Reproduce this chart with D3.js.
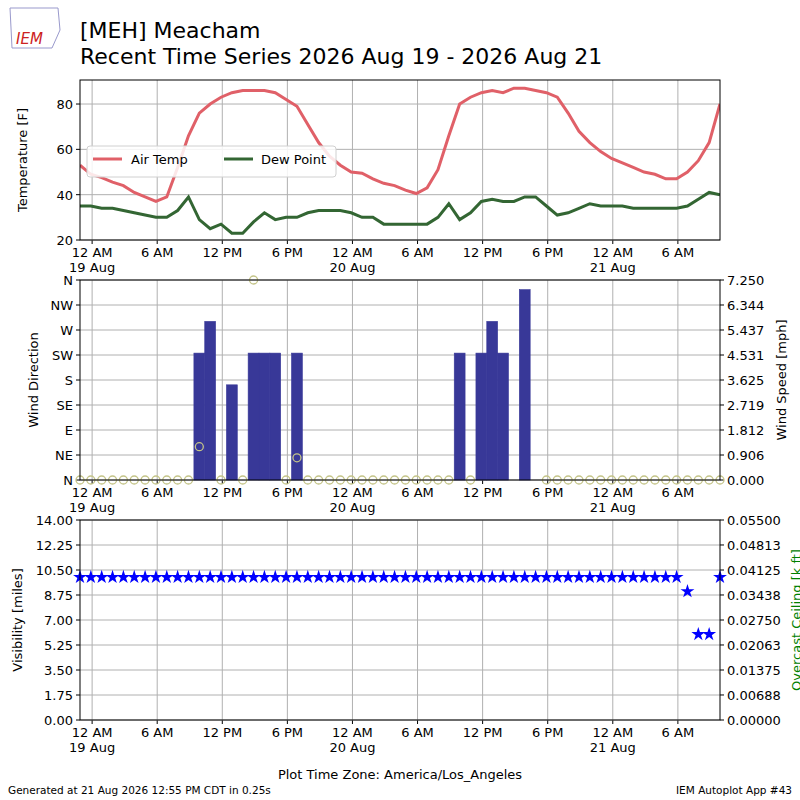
<!DOCTYPE html>
<html><head><meta charset="utf-8">
<script src="https://cdn.jsdelivr.net/npm/d3@7"></script>
<style>body{margin:0;background:#fff}text{font-family:"DejaVu Sans",sans-serif}</style>
</head><body><svg id="c" width="800" height="800"></svg>
<script>
const startTime = new Date(2026,7,18,22,53);
const airTemp = [53,49,47.5,45.5,44,41,39,37,39,52,66,76,80,83,85,86,86,86,85,82,79,71,63,57,53,50,49.5,47,45,44,42,40.5,43,51,66,80,83,85,86,85,87,87,86,85,83,76,68,63,59,56,54,52,50,49,47,47,50,55,63,80];
const dewPoint = [35,35,34,34,33,32,31,30,30,33,39,29,25,27,23,23,28,32,29,30,30,32,33,33,33,32,30,30,27,27,27,27,27,30,36,29,32,37,38,37,37,39,39,35,31,32,34,36,35,35,35,34,34,34,34,34,35,38,41,40];
const windSpeed = [0,0,0,0,0,0,0,0,0,0,0,4.6,5.75,0,3.45,0,4.6,4.6,4.6,0,4.6,0,0,0,0,0,0,0,0,0,0,0,0,0,0,4.6,0,4.6,5.75,4.6,0,6.9,0,0,0,0,0,0,0,0,0,0,0,0,0,0,0,0,0,0];
const windDir = [0,0,0,0,0,0,0,0,0,0,0,60,null,0,null,0,360,null,null,0,40,0,0,0,0,0,0,0,0,0,0,0,0,0,0,null,0,null,null,null,null,null,null,0,0,0,0,0,0,0,0,0,0,0,0,0,0,0,0,0];
const visibility = [10,10,10,10,10,10,10,10,10,10,10,10,10,10,10,10,10,10,10,10,10,10,10,10,10,10,10,10,10,10,10,10,10,10,10,10,10,10,10,10,10,10,10,10,10,10,10,10,10,10,10,10,10,10,10,10,9,6,6,10];
const dirLabels = ["N","NE","E","SE","S","SW","W","NW","N"];
const speedTicks = [0,0.906,1.812,2.719,3.625,4.531,5.437,6.344,7.250];
const visTicks = [0,1.75,3.5,5.25,7,8.75,10.5,12.25,14];
const ceilTicks = ["0.00000","0.00688","0.01375","0.02063","0.02750","0.03438","0.04125","0.04813","0.05500"];

const times = airTemp.map((_,i)=>new Date(+startTime + i*3600e3));
const svg = d3.select("#c");
const L=80,R=720;
const x = d3.scaleTime().domain([startTime, new Date(+startTime+59*3600e3)]).range([L,R]);
const tickTimes = d3.range(0,10).map(k=>new Date(2026,7,19,6*k));
const fmtTick = d=>{const h=d.getHours();return h===0?"12 AM":h===12?"12 PM":(h%12)+(h<12?" AM":" PM");};
const gridc="#b0b0b0";

function panel(top,bottom){
  const g=svg.append("g");
  tickTimes.forEach(t=>{g.append("line").attr("x1",x(t)).attr("x2",x(t)).attr("y1",top).attr("y2",bottom).attr("stroke",gridc);
    g.append("line").attr("x1",x(t)).attr("x2",x(t)).attr("y1",bottom).attr("y2",bottom+4).attr("stroke","#000");
    g.append("text").attr("x",x(t)).attr("y",bottom+17).attr("text-anchor","middle").attr("font-size",13).text(fmtTick(t));
    if(t.getHours()===0) g.append("text").attr("x",x(t)).attr("y",bottom+32).attr("text-anchor","middle").attr("font-size",13).text(t.getDate()+" Aug");
  });
  return g;
}
function frame(top,bottom){svg.append("rect").attr("x",L).attr("y",top).attr("width",R-L).attr("height",bottom-top).attr("fill","none").attr("stroke","#000");}
function hgrid(g,y,vals,labs,side){
  vals.forEach((v,i)=>{g.append("line").attr("x1",L).attr("x2",R).attr("y1",y(v)).attr("y2",y(v)).attr("stroke",gridc);
    const xx=side==="r"?R:L;
    g.append("line").attr("x1",xx).attr("x2",side==="r"?xx+4:xx-4).attr("y1",y(v)).attr("y2",y(v)).attr("stroke","#000");
    g.append("text").attr("x",side==="r"?xx+7:xx-7).attr("y",y(v)+5).attr("text-anchor",side==="r"?"start":"end").attr("font-size",13).text(labs[i]);});
}
function rightTicks(y,vals,labs){vals.forEach((v,i)=>{svg.append("line").attr("x1",R).attr("x2",R+4).attr("y1",y(v)).attr("y2",y(v)).attr("stroke","#000");
  svg.append("text").attr("x",R+7).attr("y",y(v)+5).attr("font-size",13).text(labs[i]);});}
function ylab(xx,yy,t,col){svg.append("text").attr("transform",`translate(${xx},${yy}) rotate(-90)`).attr("text-anchor","middle").attr("font-size",13).attr("fill",col||"#000").text(t);}

// Panel 1
const y1=d3.scaleLinear().domain([20,90.6]).range([240,80]);
const g1=panel(80,240);
hgrid(g1,y1,[20,40,60,80],["20","40","60","80"],"l");
const line=d3.line().x((d,i)=>x(times[i])).y(d=>y1(d));
svg.append("clipPath").attr("id","cp1").append("rect").attr("x",L).attr("y",80).attr("width",R-L).attr("height",160);
svg.append("path").datum(airTemp).attr("d",line).attr("fill","none").attr("stroke","#e06068").attr("stroke-width",3).attr("clip-path","url(#cp1)");
svg.append("path").datum(dewPoint).attr("d",line).attr("fill","none").attr("stroke","#336633").attr("stroke-width",3).attr("clip-path","url(#cp1)");
frame(80,240);
ylab(27,160,"Temperature [F]");
const lg=svg.append("g");
lg.append("rect").attr("x",87).attr("y",146).attr("width",249).attr("height",31).attr("rx",3).attr("fill","#fff").attr("fill-opacity",0.85).attr("stroke","#d0d0d0");
lg.append("line").attr("x1",93).attr("x2",122).attr("y1",159).attr("y2",159).attr("stroke","#e06068").attr("stroke-width",3);
lg.append("text").attr("x",131).attr("y",164).attr("font-size",13).text("Air Temp");
lg.append("line").attr("x1",224).attr("x2",253).attr("y1",159).attr("y2",159).attr("stroke","#336633").attr("stroke-width",3);
lg.append("text").attr("x",261).attr("y",164).attr("font-size",13).text("Dew Point");

// Panel 2
const yd=d3.scaleLinear().domain([0,360]).range([480,280]);
const ys=d3.scaleLinear().domain([0,7.25]).range([480,280]);
const g2=panel(280,480);
hgrid(g2,yd,d3.range(0,361,45),dirLabels,"l");
rightTicks(ys,speedTicks,speedTicks.map(v=>v.toFixed(3)));
const hw=x(new Date(+startTime+1800e3))-x(startTime);
svg.append("g").selectAll("rect").data(windSpeed).join("rect")
  .attr("x",(d,i)=>x(times[i])-hw).attr("width",2*hw).attr("y",d=>ys(d)).attr("height",d=>480-ys(d))
  .attr("fill","#383898").attr("stroke","#383898").attr("stroke-width",0.6);
svg.append("g").selectAll("circle").data(windDir.map((d,i)=>[i,d]).filter(d=>d[1]!==null)).join("circle")
  .attr("cx",d=>x(times[d[0]])).attr("cy",d=>yd(d[1])).attr("r",4).attr("fill","none").attr("stroke","#c4c488").attr("stroke-width",1.3);
frame(280,480);
ylab(38,380,"Wind Direction");
ylab(786,380,"Wind Speed [mph]");

// Panel 3
const yv=d3.scaleLinear().domain([0,14]).range([720,520]);
const g3=panel(520,720);
hgrid(g3,yv,visTicks,visTicks.map(v=>v.toFixed(2)),"l");
const yc=d3.scaleLinear().domain([0,0.055]).range([720,520]);
rightTicks(yc,ceilTicks.map(Number),ceilTicks);
const star=d3.symbol().type(d3.symbolStar).size(60);
svg.append("g").selectAll("path").data(visibility).join("path")
  .attr("transform",(d,i)=>`translate(${x(times[i])},${yv(d)})`).attr("d",star).attr("fill","#0000ff");
frame(520,720);
ylab(22,620,"Visibility [miles]");
ylab(801,620,"Overcast Ceiling [k ft]","#008000");

// Titles
svg.append("text").attr("x",80).attr("y",38).attr("font-size",22).text("[MEH] Meacham");
svg.append("text").attr("x",80).attr("y",64).attr("font-size",22).text("Recent Time Series 2026 Aug 19 - 2026 Aug 21");
svg.append("text").attr("x",16).attr("y",44).attr("font-size",15).attr("font-style","italic").attr("font-family","Liberation Serif").attr("fill","#cc2222").text("IEM");
svg.append("path").attr("d","M10,8 L58,8 L60,30 L52,48 L12,48 Z").attr("fill","none").attr("stroke","#9999cc").attr("stroke-width",1);
svg.append("text").attr("x",400).attr("y",779).attr("text-anchor","middle").attr("font-size",13).text("Plot Time Zone: America/Los_Angeles");
svg.append("text").attr("x",8).attr("y",794).attr("font-size",10.5).text("Generated at 21 Aug 2026 12:55 PM CDT in 0.25s");
svg.append("text").attr("x",792).attr("y",794).attr("text-anchor","end").attr("font-size",10.5).text("IEM Autoplot App #43");
</script></body></html>
